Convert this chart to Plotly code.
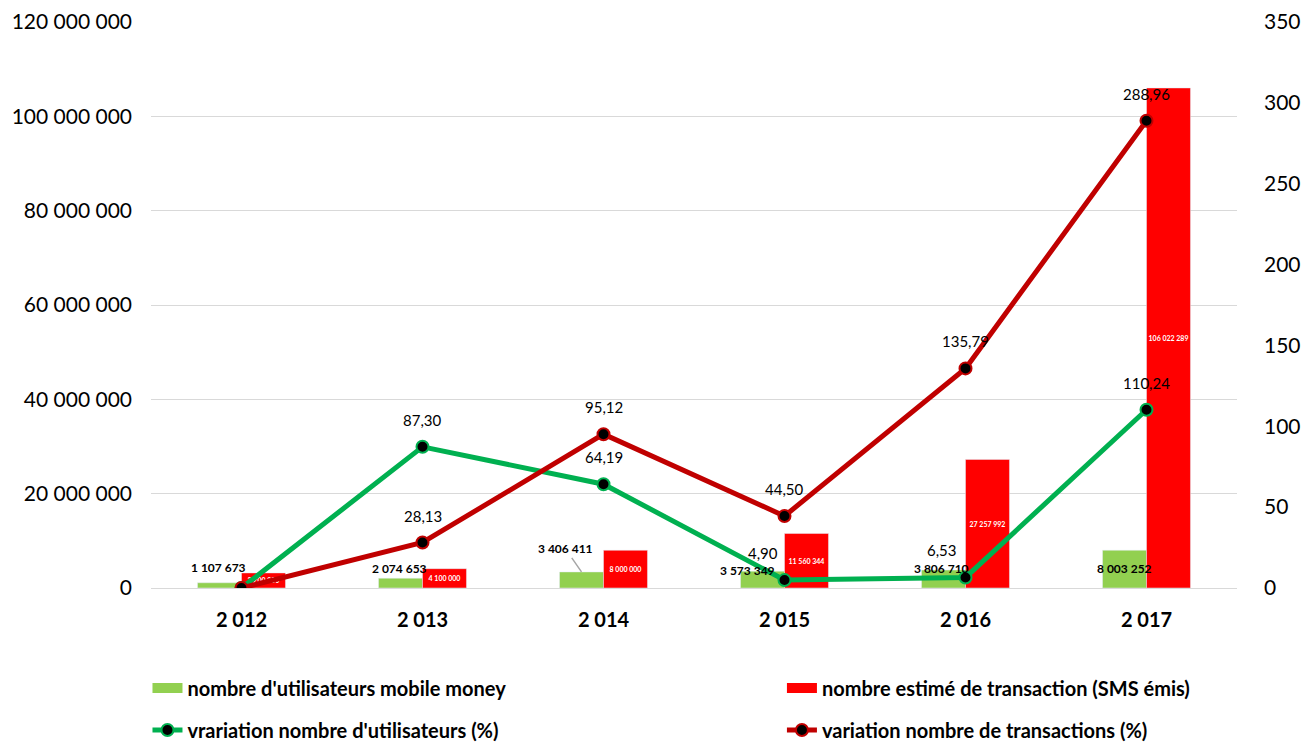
import plotly.graph_objects as go

categories = ["2 012", "2 013", "2 014", "2 015", "2 016", "2 017"]
users = [1107673, 2074653, 3406411, 3573349, 3806710, 8003252]
transactions = [3200000, 4100000, 8000000, 11560344, 27257992, 106022289]
var_users = [0, 87.30, 64.19, 4.90, 6.53, 110.24]
var_trans = [0, 28.13, 95.12, 44.50, 135.79, 288.96]

name_users = "nombre d'utilisateurs mobile money"
name_trans = "nombre estimé de transaction (SMS émis)"
name_vu = "vrariation nombre d'utilisateurs (%)"
name_vt = "variation nombre de transactions (%)"

FONT = "Lato, Open Sans, sans-serif"
GREEN_BAR = "#92D050"
RED_BAR = "#FF0000"

def fmt_int(v):
    return f"{v:,.0f}".replace(",", " ")

def fmt_dec(v):
    return f"{v:.2f}".replace(".", ",")

fig = go.Figure()
fig.add_trace(go.Bar(
    x=categories, y=users, name=name_users, marker_color=GREEN_BAR,
    showlegend=False, yaxis="y"))
fig.add_trace(go.Bar(
    x=categories, y=transactions, name=name_trans, marker_color=RED_BAR,
    text=[fmt_int(v) for v in transactions], textposition="inside",
    insidetextanchor="middle", textangle=0, constraintext="none",
    textfont=dict(size=7, color="white", family=FONT, weight="bold"),
    showlegend=False, yaxis="y"))
# legend keys for the bars (wide rectangles as in the reference)
fig.add_trace(go.Scatter(
    x=[None], y=[None], name=name_users, mode="lines",
    line=dict(color=GREEN_BAR, width=14), legend="legend", yaxis="y"))
fig.add_trace(go.Scatter(
    x=[None], y=[None], name=name_trans, mode="lines",
    line=dict(color=RED_BAR, width=14), legend="legend2", yaxis="y"))
fig.add_trace(go.Scatter(
    x=categories, y=var_users, name=name_vu, mode="lines+markers",
    line=dict(color="#00B050", width=5),
    marker=dict(color="black", size=12, line=dict(color="#00B050", width=2)),
    legend="legend3", yaxis="y2"))
fig.add_trace(go.Scatter(
    x=categories, y=var_trans, name=name_vt, mode="lines+markers",
    line=dict(color="#C00000", width=5),
    marker=dict(color="black", size=12, line=dict(color="#C00000", width=2)),
    legend="legend4", yaxis="y2"))

annotations = []
# green bar labels (offsets in pixels)
bar_xshift = [-23, -23, -22, -37, -24, -22]
bar_yshift = [15, 10, 0, 1, 2, -18]
for i, (c, v) in enumerate(zip(categories, users)):
    if i == 2:
        annotations.append(dict(
            x=c, y=v, xref="x", yref="y", text=fmt_int(v), showarrow=True,
            arrowhead=0, arrowwidth=1.5, arrowcolor="#A6A6A6", standoff=0,
            ax=-16, ay=-23, xshift=-22,
            font=dict(size=12, color="black", family=FONT, weight="bold")))
    else:
        annotations.append(dict(
            x=c, y=v, xref="x", yref="y", text=fmt_int(v), showarrow=False,
            xshift=bar_xshift[i], yshift=bar_yshift[i],
            font=dict(size=12, color="black", family=FONT, weight="bold")))

vu_xshift = [0, 0, 0, -22, -24, 0]
for i, (c, v) in enumerate(zip(categories, var_users)):
    if i == 0:
        continue
    annotations.append(dict(
        x=c, y=v, xref="x", yref="y2", text=fmt_dec(v), showarrow=False,
        xshift=vu_xshift[i], yshift=27,
        font=dict(size=15, color="black", family=FONT)))
for i, (c, v) in enumerate(zip(categories, var_trans)):
    if i == 0:
        continue
    annotations.append(dict(
        x=c, y=v, xref="x", yref="y2", text=fmt_dec(v), showarrow=False,
        yshift=27, font=dict(size=15, color="black", family=FONT)))

def leg(x, y):
    return dict(
        orientation="h", x=x, y=y, xref="container", yref="container",
        xanchor="left", yanchor="middle",
        font=dict(size=20, color="black", family=FONT, weight="bold"),
        bgcolor="rgba(0,0,0,0)", itemclick=False, itemdoubleclick=False)

# page body adds an 8px offset; the figure is sized to fit the window
fig.update_layout(
    width=1306, height=734,
    margin=dict(l=143, r=77, t=14, b=154, autoexpand=False),
    paper_bgcolor="white", plot_bgcolor="white",
    barmode="group", bargap=0.514, bargroupgap=0,
    font=dict(family=FONT, color="black"),
    separators=", ",
    showlegend=True,
    legend=leg(0.1068, 0.0736),
    legend2=leg(0.5926, 0.0736),
    legend3=leg(0.1068, 0.0163),
    legend4=leg(0.5926, 0.0163),
    xaxis=dict(type="category", showgrid=False, ticks="", showline=False,
               automargin=False,
               tickfont=dict(size=20, color="black", family=FONT, weight="bold"),
               ticklabelstandoff=18),
    yaxis=dict(range=[0, 120000000], dtick=20000000, tickformat=",.0f",
               showgrid=True, gridcolor="#D9D9D9", gridwidth=1,
               zeroline=True, zerolinecolor="#D9D9D9", zerolinewidth=1,
               showline=False, ticks="", ticklabelstandoff=18, automargin=False,
               tickfont=dict(size=21, color="black", family=FONT)),
    yaxis2=dict(range=[0, 350], dtick=50, overlaying="y", side="right",
                showgrid=False, zeroline=False, showline=False, ticks="",
                ticklabelstandoff=26, automargin=False,
                tickfont=dict(size=21, color="black", family=FONT)),
    annotations=annotations,
)

fig.write_html("out.html")
